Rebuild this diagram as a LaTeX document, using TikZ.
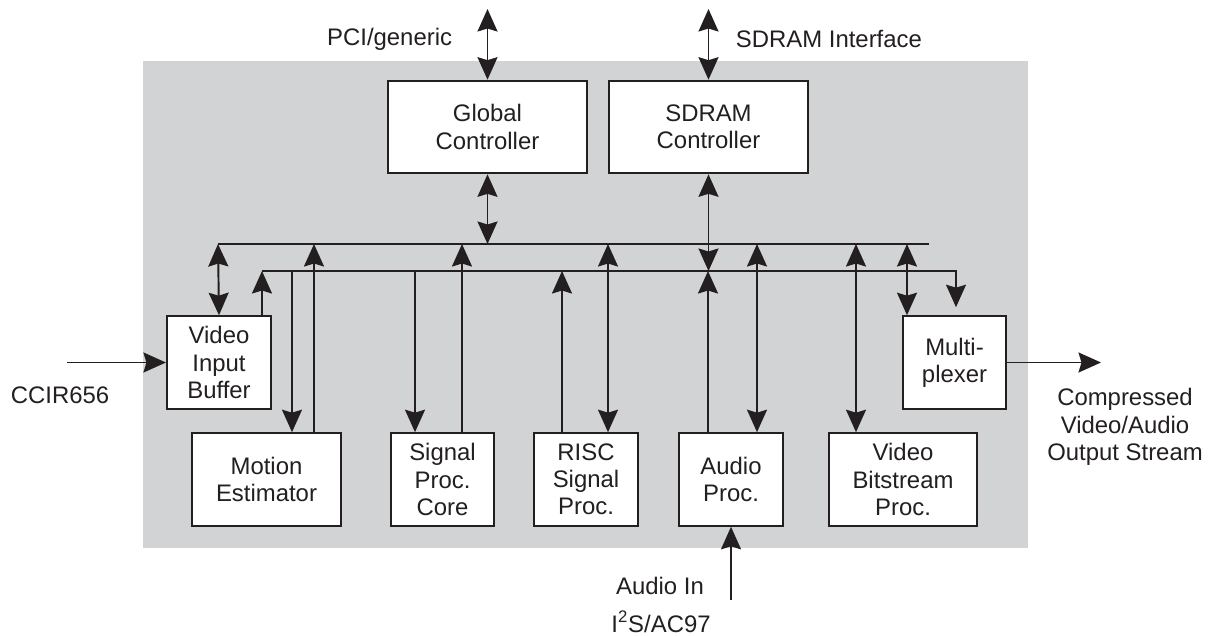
\documentclass[tikz,border=0pt]{standalone}
\usepackage{fontspec}
\setmainfont{Liberation Sans}
\usetikzlibrary{arrows.meta}
\definecolor{panel}{RGB}{209,211,212}
\definecolor{ink}{RGB}{35,31,32}
\tikzset{
  blk/.style={draw=ink, fill=white, line width=1.2pt, align=center, inner sep=0pt, minimum height=18.5mm},
  lbl/.style={inner sep=0pt, align=center}
}
\begin{document}
\begin{tikzpicture}[x=0.2mm, y=-0.2mm, line width=1.1pt, draw=ink,
  >={Stealth[length=4.5mm,width=4mm,inset=0.6mm]},
  every node/.style={text=ink, font=\fontsize{13.6}{15.5}\selectfont}]
\useasboundingbox (0,0) rectangle (1211,636);
\fill[panel] (143,61) rectangle (1028,548);

% blocks
\node[blk, minimum width=39.8mm] (gc) at (487.5,127) {Global\\Controller};
\node[blk, minimum width=39.8mm] (sdram) at (708.5,127) {SDRAM\\Controller};
\node[blk, minimum width=20.8mm] (vib) at (219,362.5) {Video\\Input\\Buffer};
\node[blk, minimum width=20.6mm] (mux) at (954.5,362.5) {Multi-\\plexer};
\node[blk, minimum width=29.8mm] (me) at (266.5,479.5) {Motion\\Estimator};
\node[blk, minimum width=20.6mm] (spc) at (442.5,479.5) {Signal\\Proc.\\Core};
\node[blk, minimum width=20.8mm] (risc) at (586,479.5) {RISC\\Signal\\Proc.};
\node[blk, minimum width=20.8mm] (ap) at (731,479.5) {Audio\\Proc.};
\node[blk, minimum width=29.6mm] (vbp) at (903,479.5) {Video\\Bitstream\\Proc.};

% buses
\coordinate (bus1w) at (218,244);
\coordinate (bus1e) at (929,244);
\coordinate (bus2w) at (262,271);
\coordinate (bus2e) at (956,271);
\draw (bus1w) -- (bus1e);
\draw[->, shorten >=1.6mm] (bus2w) -- (bus2e) -- (bus2e |- mux.north);

\draw[<->] (gc.south) -- (gc.south |- bus1w);
\draw[<->] (sdram.south) -- (sdram.south |- bus2w);
\draw[<->] (bus1w) -- (vib.north);
\draw[->] (vib.north -| bus2w) -- (bus2w);

\foreach \x/\b in {292/me, 415/spc}
    \draw[->] (\x,0 |- bus2w) -- (\x,0 |- \b.north);
\foreach \x/\b in {314/me, 462/spc}
    \draw[->] (\x,0 |- \b.north) -- (\x,0 |- bus1w);
\foreach \x/\b in {562/risc, 708/ap}
    \draw[->] (\x,0 |- \b.north) -- (\x,0 |- bus2w);
\foreach \x/\b in {608/risc, 757/ap, 856/vbp, 907/mux}
    \draw[<->] (\x,0 |- bus1w) -- (\x,0 |- \b.north);

% outside connections
\coordinate (pci) at (487.5,9);
\coordinate (sdif) at (708.5,9);
\coordinate (ccir) at (67,362.5);
\coordinate (out) at (1101,362.5);
\coordinate (ain) at (731,600);
\draw[<->] (pci) -- (gc.north);
\draw[<->] (sdif) -- (sdram.north);
\draw[->] (ccir) -- (vib.west);
\draw[->] (mux.east) -- (out);
\draw[->] (ain) -- (ap.south);

\node[lbl, anchor=base east] (pcilbl) at (453,46) {PCI/generic};
\node[lbl, anchor=base west] (sdiflbl) at (735,48) {SDRAM Interface};
\node[lbl, anchor=base west] (ccirlbl) at (10,403) {CCIR656};
\node[lbl] (outlbl) at (1125,427) {Compressed\\Video/Audio\\Output Stream};
\node[lbl, anchor=base] (ainlbl) at (660,594) {Audio In};
\node[lbl, anchor=base] (i2slbl) at (661,632) {I\textsuperscript{2}S/AC97};
\end{tikzpicture}
\end{document}
